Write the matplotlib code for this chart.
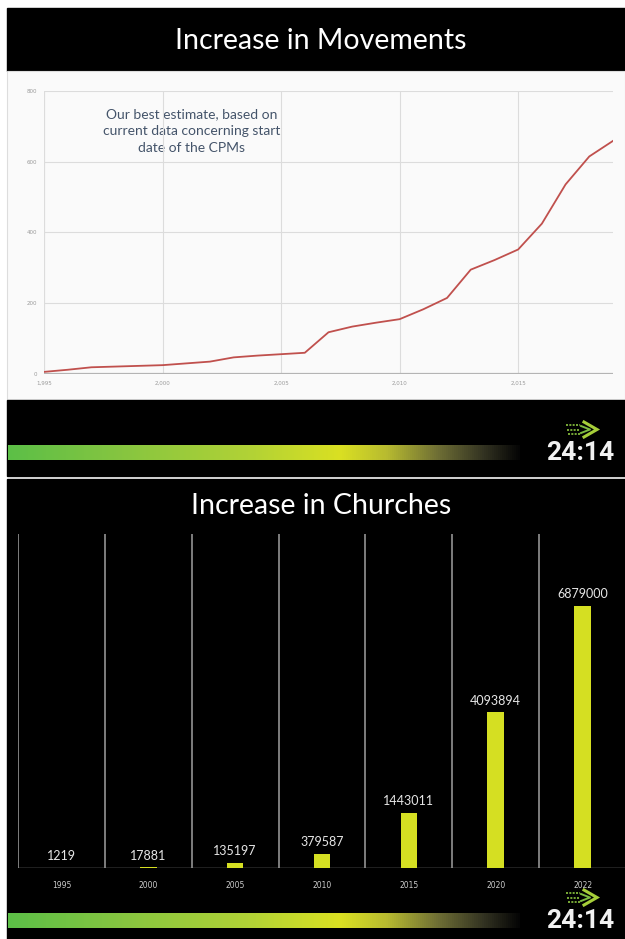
import numpy as np
import matplotlib
matplotlib.use("Agg")
import matplotlib.pyplot as plt
from matplotlib.patches import Rectangle
from matplotlib.colors import LinearSegmentedColormap
from matplotlib.ticker import FuncFormatter

# movements (line chart, top)
mv_years = [1995, 1996, 1997, 1998, 1999, 2000, 2001, 2002, 2003, 2004, 2005, 2006,
            2007, 2008, 2009, 2010, 2011, 2012, 2013, 2014, 2015, 2016, 2017, 2018, 2019]
mv_counts = [6, 12, 19, 21, 23, 25, 30, 35, 47, 52, 56, 60,
             118, 134, 145, 155, 183, 215, 295, 322, 352, 425, 536, 615, 659]
mv_yticks = [0, 200, 400, 600, 800]
mv_xticks = [1995, 2000, 2005, 2010, 2015]
mv_note = "Our best estimate, based on\ncurrent data concerning start\ndate of the CPMs"

# churches (bar chart, bottom)
ch_years = ["1995", "2000", "2005", "2010", "2015", "2020", "2022"]
ch_counts = [1219, 17881, 135197, 379587, 1443011, 4093894, 6879000]

W, H = 625, 939
fig = plt.figure(figsize=(W / 100, H / 100), dpi=100, facecolor="white")


def box(x0, y0, x1, y1):
    # pixel box (top-left origin) -> figure fraction
    return [x0 / W, 1 - y1 / H, (x1 - x0) / W, (y1 - y0) / H]


bg = fig.add_axes([0, 0, 1, 1], zorder=0)
bg.axis("off")

# panels
bg.add_patch(Rectangle((7, 8), W - 7, 63, color="black"))
bg.add_patch(Rectangle((7, 71), W - 7, 329, facecolor="#fafafa", edgecolor="#dddddd", lw=0.8))
bg.add_patch(Rectangle((7, 400), W - 7, 76, color="black"))
bg.add_patch(Rectangle((7, 479), W - 7, H - 479, color="black"))

bar_cmap = LinearSegmentedColormap.from_list("band", [
    (0.0, "#5cbf47"), (0.22, "#86c540"), (0.47, "#b1d236"), (0.65, "#dae022"),
    (0.74, "#b8bb30"), (0.84, "#6f6f35"), (0.93, "#333322"), (1.0, "#050505")])
grad = np.linspace(0, 1, 256)[None, :]


def footer(dy):
    bg.imshow(grad, extent=(8, 520, 460 + dy, 445 + dy), aspect="auto", cmap=bar_cmap, zorder=2)
    bg.text(580, 453 + dy, "24:14", ha="center", va="center", color="#f2f2f2",
            fontsize=19, fontweight="bold", family="Roboto", zorder=3)
    # small logo: chevrons + dashes
    bg.plot([584, 597, 584], [422 + dy, 429.5 + dy, 437 + dy], color="#a6ce39", lw=2.2,
            solid_joinstyle="miter", zorder=3)
    bg.plot([581, 590, 581], [426 + dy, 429.5 + dy, 433 + dy], color="#7dbb42", lw=1.4, zorder=3)
    for k, yy in enumerate([425, 429.5, 434]):
        bg.plot([566 + k, 580], [yy + dy, yy + dy], color="#8cc63f", lw=1.2,
                ls=(0, (1.2, 0.8)), zorder=3)


footer(0)
footer(468)

bg.text(321, 41, "Increase in Movements", ha="center", va="center", color="white",
        fontsize=20.5, family="Lato")
bg.text(321, 506, "Increase in Churches", ha="center", va="center", color="white",
        fontsize=20.5, family="Lato")
bg.text(192, 131, mv_note, ha="center", va="center", color="#44546a",
        fontsize=10, family="Lato", linespacing=1.5)

bg.set_xlim(0, W)
bg.set_ylim(H, 0)

# top: line chart
ax1 = fig.add_axes(box(44, 91, 613, 374), zorder=1)
ax1.set_facecolor("none")
ax1.set_xlim(1995, 2019)
ax1.set_ylim(0, 800)
ax1.set_xticks(mv_xticks)
ax1.set_yticks(mv_yticks)
ax1.xaxis.set_major_formatter(FuncFormatter(lambda v, p: f"{int(v):,}"))
ax1.grid(True, color="#dcdcdc", lw=0.8)
ax1.axvline(1995, color="#dcdcdc", lw=0.8)
for s in ax1.spines.values():
    s.set_visible(False)
ax1.axhline(0, color="#b4b4b4", lw=1.6, zorder=2)
ax1.tick_params(length=0, labelsize=4, labelcolor="#9a9a9a", pad=5)
ax1.plot(mv_years, mv_counts, color="#c0504d", lw=1.3, zorder=3)

# bottom: bar chart
ax2 = fig.add_axes(box(18, 534, 626, 868), zorder=1)
ax2.set_facecolor("none")
ax2.set_xlim(-0.5, len(ch_years) - 0.5)
ax2.set_ylim(0, 8.77e6)
for s in ax2.spines.values():
    s.set_visible(False)
ax2.vlines(np.arange(len(ch_years) + 1) - 0.5, 0, 8.77e6, color="#a0a0a0", lw=1.1)
ax2.axhline(0, color="#a0a0a0", lw=1.0)
x = np.arange(len(ch_years))
ax2.bar(x, ch_counts, width=0.19, color="#d5df22", zorder=3)
for i, v in enumerate(ch_counts):
    ax2.annotate(str(v), (i, v), xytext=(0, 4), textcoords="offset points",
                 ha="center", va="bottom", color="#e6e6e6", fontsize=9, family="Lato")
ax2.set_xticks(x)
ax2.set_xticklabels(ch_years)
ax2.set_yticks([])
ax2.tick_params(axis="x", length=0, labelsize=5.5, labelcolor="#cccccc", pad=9)

fig.savefig("out.png", dpi=100, facecolor="white")
